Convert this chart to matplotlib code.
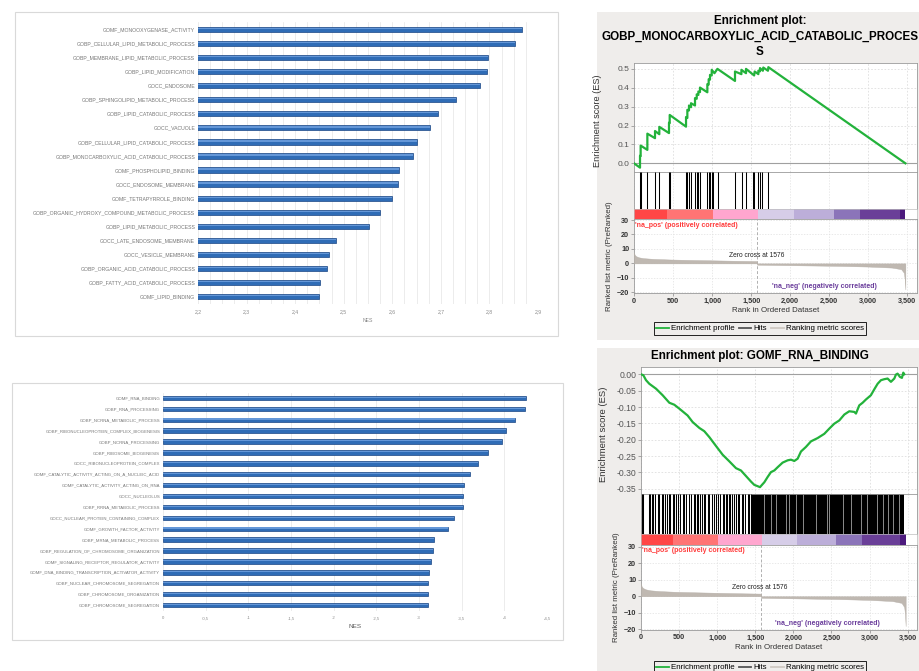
import numpy as np
import matplotlib
matplotlib.use("Agg")
import matplotlib.pyplot as plt
from matplotlib.patches import Rectangle
from matplotlib.lines import Line2D
from matplotlib.ticker import FuncFormatter

plt.rcParams['font.family'] = ['Liberation Sans', 'DejaVu Sans']

W, H = 920, 671

# --- NES of the top positively enriched gene sets ---
up_terms = ['GOMF_MONOOXYGENASE_ACTIVITY', 'GOBP_CELLULAR_LIPID_METABOLIC_PROCESS',
            'GOBP_MEMBRANE_LIPID_METABOLIC_PROCESS', 'GOBP_LIPID_MODIFICATION', 'GOCC_ENDOSOME',
            'GOBP_SPHINGOLIPID_METABOLIC_PROCESS', 'GOBP_LIPID_CATABOLIC_PROCESS', 'GOCC_VACUOLE',
            'GOBP_CELLULAR_LIPID_CATABOLIC_PROCESS', 'GOBP_MONOCARBOXYLIC_ACID_CATABOLIC_PROCESS',
            'GOMF_PHOSPHOLIPID_BINDING', 'GOCC_ENDOSOME_MEMBRANE', 'GOMF_TETRAPYRROLE_BINDING',
            'GOBP_ORGANIC_HYDROXY_COMPOUND_METABOLIC_PROCESS', 'GOBP_LIPID_METABOLIC_PROCESS',
            'GOCC_LATE_ENDOSOME_MEMBRANE', 'GOCC_VESICLE_MEMBRANE', 'GOBP_ORGANIC_ACID_CATABOLIC_PROCESS',
            'GOBP_FATTY_ACID_CATABOLIC_PROCESS', 'GOMF_LIPID_BINDING']
up_nes = [2.867, 2.852, 2.797, 2.795, 2.781, 2.731, 2.694, 2.677, 2.650, 2.643,
          2.614, 2.612, 2.600, 2.574, 2.552, 2.484, 2.469, 2.465, 2.451, 2.449]
up_ticks = [2.2, 2.3, 2.4, 2.5, 2.6, 2.7, 2.8, 2.9]
up_ticklabels = ['2,2', '2,3', '2,4', '2,5', '2,6', '2,7', '2,8', '2,9']

# --- NES of the top negatively enriched gene sets ---
down_terms = ['GOMF_RNA_BINDING', 'GOBP_RNA_PROCESSING', 'GOBP_NCRNA_METABOLIC_PROCESS',
              'GOBP_RIBONUCLEOPROTEIN_COMPLEX_BIOGENESIS', 'GOBP_NCRNA_PROCESSING', 'GOBP_RIBOSOME_BIOGENESIS',
              'GOCC_RIBONUCLEOPROTEIN_COMPLEX', 'GOMF_CATALYTIC_ACTIVITY_ACTING_ON_A_NUCLEIC_ACID',
              'GOMF_CATALYTIC_ACTIVITY_ACTING_ON_RNA', 'GOCC_NUCLEOLUS', 'GOBP_RRNA_METABOLIC_PROCESS',
              'GOCC_NUCLEAR_PROTEIN_CONTAINING_COMPLEX', 'GOMF_GROWTH_FACTOR_ACTIVITY',
              'GOBP_MRNA_METABOLIC_PROCESS', 'GOBP_REGULATION_OF_CHROMOSOME_ORGANIZATION',
              'GOMF_SIGNALING_RECEPTOR_REGULATOR_ACTIVITY', 'GOMF_DNA_BINDING_TRANSCRIPTION_ACTIVATOR_ACTIVITY',
              'GOBP_NUCLEAR_CHROMOSOME_SEGREGATION', 'GOBP_CHROMOSOME_ORGANIZATION',
              'GOBP_CHROMOSOME_SEGREGATION']
down_nes = [-4.25, -4.24, -4.13, -4.02, -3.97, -3.81, -3.69, -3.60, -3.53, -3.52,
            -3.51, -3.41, -3.34, -3.18, -3.16, -3.14, -3.12, -3.11, -3.10, -3.10]
down_ticks = [0, -0.5, -1, -1.5, -2, -2.5, -3, -3.5, -4, -4.5]
down_ticklabels = ['0', '-0,5', '-1', '-1,5', '-2', '-2,5', '-3', '-3,5', '-4', '-4,5']

# --- ranked list shared by both enrichment plots ---
n_genes = 3474
zero_cross = 1576
metric_rank = [0, 8, 25, 60, 120, 250, 450, 700, 1000, 1300, 1575, 1576,
               1800, 2200, 2600, 3000, 3300, 3420, 3455, 3466, 3474]
metric_score = [7.7, 6.0, 5.0, 4.2, 3.6, 3.1, 2.7, 2.4, 2.1, 1.8, 1.6, -0.9,
                -1.1, -1.4, -1.7, -2.2, -2.9, -4.0, -6.5, -11.0, -18.0]
band_edges = [0, 420, 1015, 1585, 2050, 2560, 2895, 3400, 3474]
band_colors = ['#ff4646', '#ff7474', '#ffa6cf', '#d6cde8', '#bcaed9', '#8b74b9', '#6a3f98', '#4c1a7d']

# --- GOBP_MONOCARBOXYLIC_ACID_CATABOLIC_PROCESS ---
mono_hits = [77, 85, 171, 269, 324, 448, 457, 666, 683, 704, 730, 781, 803, 824, 845,
             939, 956, 973, 995, 1016, 1080, 1293, 1379, 1434, 1520, 1541, 1592, 1613, 1635, 1720]
mono_es_rank = [0, 77, 77, 85, 85, 171, 171, 269, 269, 324, 324, 448, 448, 457, 457,
                666, 666, 683, 683, 704, 704, 730, 730, 781, 781, 803, 803, 824, 824, 845, 845,
                939, 939, 956, 956, 973, 973, 995, 995, 1030, 1068, 1293, 1293, 1375, 1375,
                1434, 1434, 1538, 1545, 1592, 1592, 1613, 1613, 1650, 1655, 1715, 1720, 3474]
mono_es = [0, -0.023, 0.040, 0.038, 0.094, 0.071, 0.157, 0.133, 0.171, 0.154, 0.193, 0.160, 0.215,
           0.213, 0.256, 0.194, 0.245, 0.240, 0.283, 0.280, 0.306, 0.297, 0.318, 0.306, 0.345,
           0.342, 0.365, 0.362, 0.380, 0.377, 0.401, 0.376, 0.419, 0.417, 0.445, 0.443, 0.468,
           0.465, 0.495, 0.477, 0.500, 0.436, 0.486, 0.472, 0.495, 0.477, 0.500, 0.465, 0.486,
           0.472, 0.490, 0.487, 0.504, 0.490, 0.507, 0.490, 0.509, 0.0]

# --- GOMF_RNA_BINDING ---
rna_hits = [13, 30, 100, 118, 140, 161, 188, 218, 240, 275, 293, 315, 336, 363, 385, 415, 437,
            459, 489, 511, 546, 568, 590, 625, 656, 691, 708, 730, 752, 778, 800, 822, 844, 874,
            896, 927, 962, 984, 1006, 1036, 1071, 1093, 1115, 1133, 1150, 1172, 1194, 1225, 1247,
            1268, 1290, 1321, 1343, 1369, 1399, 1421, 1443]
rna_dense_start, rna_dense_end = 1456, 3447
rna_gaps = [1619, 1706, 1772, 1903, 1946, 2034, 2130, 2296, 2436, 2471, 2646, 2758,
            2884, 2961, 3092, 3171, 3237, 3302, 3381]
rna_es_rank = [0, 31, 66, 109, 197, 284, 372, 437, 503, 612, 678, 766, 831, 897, 984, 1072,
               1159, 1247, 1312, 1378, 1444, 1487, 1531, 1562, 1588, 1619, 1662, 1706, 1750,
               1794, 1859, 1925, 1969, 2012, 2056, 2100, 2165, 2231, 2318, 2406, 2472, 2537,
               2603, 2669, 2734, 2800, 2822, 2865, 2909, 2953, 3018, 3062, 3106, 3150, 3193,
               3237, 3281, 3325, 3346, 3368, 3399, 3425, 3443, 3456]
rna_es = [0, -0.003, -0.018, -0.029, -0.044, -0.064, -0.087, -0.093, -0.105, -0.126, -0.146,
          -0.164, -0.174, -0.192, -0.219, -0.246, -0.266, -0.287, -0.294, -0.311, -0.328,
          -0.338, -0.342, -0.345, -0.338, -0.330, -0.314, -0.299, -0.294, -0.284, -0.270,
          -0.263, -0.261, -0.265, -0.258, -0.236, -0.222, -0.205, -0.195, -0.182, -0.166,
          -0.151, -0.141, -0.123, -0.113, -0.115, -0.120, -0.095, -0.087, -0.077, -0.064,
          -0.046, -0.029, -0.018, -0.015, -0.013, -0.023, -0.013, -0.001, 0.002, -0.008,
          -0.011, 0.005, 0.0]

GREEN = '#23b23b'
PANEL_BG = '#efedeb'
BAR_BLUE = '#2f6cb6'
X_MAX = 3623


def px_box(l, t, r, b):
    return [l / W, 1 - b / H, (r - l) / W, (b - t) / H]


def add_rect(fig, l, t, r, b, **kw):
    fig.patches.append(Rectangle((l / W, 1 - b / H), (r - l) / W, (b - t) / H,
                                 transform=fig.transFigure, zorder=-1, **kw))


def thousands(v, pos):
    return f'{int(v):,}'


def nes_chart(fig, box, axpx, terms, nes, xlim, ticks, ticklabels, minor_step,
              lab_size, nes_size, nes_color, bar_h, pad):
    add_rect(fig, *box, facecolor='white', edgecolor='#d9d9d9', linewidth=0.8)
    ax = fig.add_axes(px_box(*axpx))
    ax.patch.set_alpha(0)
    y = np.arange(len(terms))
    vals = np.array(nes)
    ax.barh(y, vals, height=bar_h, color=BAR_BLUE, edgecolor='#1a4684', linewidth=0.5, zorder=3)
    # light sheen along the upper side of each bar
    ax.barh(y - bar_h * 0.18, vals, height=bar_h * 0.25, color='#6497d8', linewidth=0, zorder=4)
    ax.set_xlim(*xlim)
    ax.set_ylim(len(terms) - 0.5, -0.5)
    ax.set_yticks(y)
    ax.set_yticklabels(terms, fontsize=lab_size, color='#767676')
    ax.set_xticks(ticks)
    ax.set_xticklabels(ticklabels, fontsize=lab_size, color='#8a8a8a')
    lo, hi = sorted(xlim)
    ax.set_xticks(np.arange(lo, hi + 1e-9, minor_step), minor=True)
    ax.grid(axis='x', which='both', color='#e4e4e4', linewidth=0.5, zorder=0)
    ax.tick_params(axis='both', which='both', length=0)
    ax.tick_params(axis='y', pad=2)
    ax.tick_params(axis='x', pad=pad)
    for s in ax.spines.values():
        s.set_visible(False)
    ax.set_xlabel('NES', fontsize=nes_size, color=nes_color, labelpad=3)
    return ax


def enrichment_panel(fig, panel, title_lines, left, rows, es_rank, es_vals, es_ylim, es_ticks,
                     es_fmt, es_size, rank_ylim, hits, dense=None, gaps=(),
                     pos_y=28, neg_xy=(2440, -16), zero_xy=(1576, 5.2), xlabel_y=310,
                     legend_y=328.5, es_label_x=-0.11):
    add_rect(fig, *panel, facecolor=PANEL_BG, edgecolor='none')
    for text, ty in title_lines:
        fig.text(760 / W, 1 - ty / H, text, ha='center', va='center', fontsize=8.4,
                 fontweight='bold', color='black')
    right = 917
    es_top, es_bot, hit_bot, band_bot, rank_bot = rows

    # running enrichment score
    ax = fig.add_axes(px_box(left, es_top, right, es_bot))
    ax.plot(es_rank, es_vals, color=GREEN, linewidth=1.6, zorder=3)
    ax.axhline(0, color='#a0a0a0', linewidth=0.8, zorder=2)
    ax.set_xlim(0, X_MAX)
    ax.set_ylim(*es_ylim)
    ax.set_yticks(es_ticks)
    ax.yaxis.set_major_formatter(FuncFormatter(lambda v, p: es_fmt.format(v) if abs(v) > 1e-9 else es_fmt.format(0.0)))
    ax.set_xticks(range(0, 3501, 500))
    ax.tick_params(axis='x', labelbottom=False, length=0)
    ax.tick_params(axis='y', labelsize=es_size, labelcolor='#555555', length=2, width=0.5,
                   color='#888888', pad=1.5)
    ax.grid(color='#dedede', linestyle=(0, (2, 2)), linewidth=0.6)
    ax.set_ylabel('Enrichment score (ES)', fontsize=es_size + 0.6, color='#333333')
    ax.yaxis.set_label_coords(es_label_x, 0.47)
    for s in ax.spines.values():
        s.set_color('#9a9a9a')
        s.set_linewidth(0.6)

    # gene set members along the ranked list
    hx = fig.add_axes(px_box(left, es_bot, right, hit_bot))
    hx.set_xlim(0, X_MAX)
    hx.set_ylim(0, 1)
    if dense is not None:
        hx.axvspan(dense[0], dense[1], color='black', linewidth=0, zorder=2)
        hx.vlines(gaps, 0, 1, color='#8c8c8c', linewidth=0.7, zorder=3)
    hx.vlines(hits, 0, 1, color='black', linewidth=0.75, zorder=3)
    hx.set_xticks(range(0, 3501, 500))
    hx.grid(axis='x', color='#e2e2e2', linestyle=(0, (2, 2)), linewidth=0.5)
    hx.set_yticks([])
    hx.tick_params(axis='x', labelbottom=False, length=0)
    for s in hx.spines.values():
        s.set_color('#9a9a9a')
        s.set_linewidth(0.6)

    # correlation colour band
    bx = fig.add_axes(px_box(left, hit_bot, right, band_bot))
    bx.set_xlim(0, X_MAX)
    bx.set_ylim(0, 1)
    for i, c in enumerate(band_colors):
        bx.axvspan(band_edges[i], band_edges[i + 1], color=c, linewidth=0)
    bx.set_xticks([])
    bx.set_yticks([])
    for s in bx.spines.values():
        s.set_color('#bdbdbd')
        s.set_linewidth(0.5)

    # ranked list metric
    rx = fig.add_axes(px_box(left, band_bot, right, rank_bot))
    rx.fill_between(metric_rank, metric_score, 0, color='#bfb8b1', linewidth=0.3,
                    edgecolor='#b5aea7', zorder=3)
    rx.axvline(zero_cross, color='#b0b0b0', linestyle=(0, (3, 2)), linewidth=0.7, zorder=2)
    rx.set_xlim(0, X_MAX)
    rx.set_ylim(*rank_ylim)
    rx.set_yticks([30, 20, 10, 0, -10, -20])
    rx.set_xticks(range(0, 3501, 500))
    rx.xaxis.set_major_formatter(FuncFormatter(thousands))
    rx.grid(color='#e0e0e0', linestyle=(0, (2, 2)), linewidth=0.5)
    rx.tick_params(axis='both', labelsize=5.2, labelcolor='#333333', length=2, width=0.5,
                   color='#888888', pad=1.5)
    for lab in rx.get_xticklabels() + rx.get_yticklabels():
        lab.set_fontweight('bold')
    for s in rx.spines.values():
        s.set_color('#9a9a9a')
        s.set_linewidth(0.6)
    rx.text(8, pos_y, "'na_pos' (positively correlated)", color='#ff3c3c', fontsize=5.0,
            fontweight='bold', ha='left', va='center', zorder=5)
    rx.text(neg_xy[0], neg_xy[1], "'na_neg' (negatively correlated)", color='#6b3e9c',
            fontsize=5.0, fontweight='bold', ha='center', va='center', zorder=5)
    rx.text(zero_xy[0], zero_xy[1], f'Zero cross at {zero_cross}', color='#222222',
            fontsize=4.8, ha='center', va='center', zorder=5)
    rx.set_ylabel('Ranked list metric (PreRanked)', fontsize=5.7, color='#333333')
    rx.yaxis.set_label_coords(-0.075, 0.5)
    fig.text(((left + right) / 2) / W, 1 - xlabel_y / H, 'Rank in Ordered Dataset',
             ha='center', va='center', fontsize=5.7, color='#333333')

    handles = [Line2D([], [], color=GREEN, linewidth=1.3),
               Line2D([], [], color='#555555', linewidth=1.3),
               Line2D([], [], color='#cfc9c3', linewidth=1.3)]
    leg = fig.legend(handles, ['Enrichment profile', 'Hits', 'Ranking metric scores'],
                     loc='center', bbox_to_anchor=(760 / W, 1 - legend_y / H), ncol=3,
                     fontsize=5.7, frameon=True, fancybox=False, edgecolor='black',
                     facecolor=PANEL_BG, framealpha=1, handlelength=1.6, handletextpad=0.3,
                     columnspacing=0.5, borderpad=0.3)
    leg.get_frame().set_linewidth(0.6)


fig = plt.figure(figsize=(W / 100, H / 100), dpi=100)

nes_chart(fig, (15, 12, 558, 336), (198, 22.3, 538, 303.7), up_terms, up_nes,
          (2.2, 2.9), up_ticks, up_ticklabels, 0.025, 3.7, 3.7, '#8a8a8a', 0.38, 4)
nes_chart(fig, (12, 383, 563, 640), (163, 392.5, 547, 610.5), down_terms, down_nes,
          (0, -4.5), down_ticks, down_ticklabels, 0.5, 3.1, 4.6, '#5a5a5a', 0.4, 4)

enrichment_panel(fig, (597, 12, 920, 340),
                 [('Enrichment plot:', 21), ('GOBP_MONOCARBOXYLIC_ACID_CATABOLIC_PROCES', 36.5), ('S', 52)],
                 634, (63, 172, 209, 219, 293.3), mono_es_rank, mono_es, (-0.046, 0.531),
                 [0, 0.1, 0.2, 0.3, 0.4, 0.5], '{:.1f}', 6.0, (-20.7, 30.7), mono_hits,
                 pos_y=26.5, neg_xy=(2435, -15.8), zero_xy=(1576, 5.2), xlabel_y=310,
                 legend_y=328.5, es_label_x=-0.113)

enrichment_panel(fig, (597, 348, 920, 671), [('Enrichment plot: GOMF_RNA_BINDING', 356)],
                 641, (367, 493.7, 534.3, 545, 629.5), rna_es_rank, rna_es, (-0.365, 0.0223),
                 [0, -0.05, -0.1, -0.15, -0.2, -0.25, -0.3, -0.35], '{:.2f}', 6.2, (-20.1, 31.0),
                 rna_hits, dense=(rna_dense_start, rna_dense_end), gaps=rna_gaps,
                 pos_y=27.5, neg_xy=(2445, -16.4), zero_xy=(1555, 5.0), xlabel_y=647.3,
                 legend_y=667.5, es_label_x=-0.12)

fig.savefig('out.png', dpi=100)
